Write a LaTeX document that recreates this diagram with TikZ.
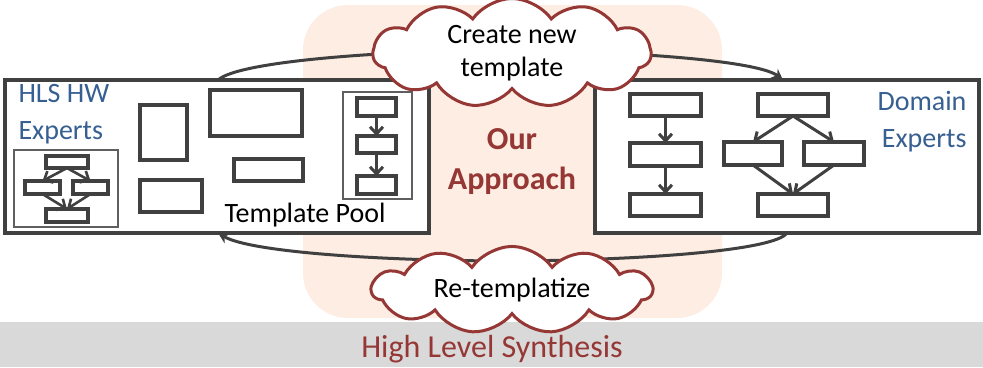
\documentclass[tikz,border=0pt]{standalone}
\usepackage{fontspec}
\setmainfont{Carlito}
\usetikzlibrary{shapes.symbols,arrows.meta}
\definecolor{ink}{HTML}{404040}
\definecolor{frame}{HTML}{5F5F5F}
\definecolor{brick}{HTML}{953735}
\definecolor{steel}{HTML}{376092}
\definecolor{peach}{HTML}{FDEDE2}
\definecolor{band}{HTML}{D9D9D9}
\tikzset{
  blk/.style={draw=ink,line width=3.2pt,fill=white,inner sep=0pt,outer sep=0pt,anchor=north west},
  frm/.style={draw=frame,line width=2pt,inner sep=0pt,outer sep=0pt,anchor=north west},
  flow/.style={draw=ink,line width=3pt,-{Straight Barb[length=7pt,width=13pt]}},
  cyc/.style={draw=ink,line width=3pt,-{Stealth[length=11pt,width=11pt]}},
  cloudy/.style={cloud,draw=brick,fill=white,line width=3pt,cloud puffs=11,cloud puff arc=110,aspect=2.9,inner sep=0pt,align=center,font=\fontsize{28}{33}\selectfont}
}
\newcommand{\blk}[5]{\node[blk,minimum width=#4pt,minimum height=#5pt] (#1) at (#2,#3) {};}
\newcommand{\frm}[5]{\node[frm,minimum width=#4pt,minimum height=#5pt] (#1) at (#2,#3) {};}

\begin{document}
\begin{tikzpicture}[x=1pt,y=-1pt]
\useasboundingbox (0,0) rectangle (983,367);
\fill[peach,rounded corners=45pt] (303,5) rectangle (722,318);
\fill[band] (0,322) rectangle (983,367);
\node[text=brick,font=\fontsize{32}{38}\selectfont,anchor=base] (hls) at (492,357) {High Level Synthesis};
\node[text=brick,font=\bfseries\fontsize{32}{40}\selectfont,align=center] (ours) at (512,162) {Our\\Approach};
\coordinate (ptl) at (218,80);
\coordinate (ptr) at (783,80);
\coordinate (pbr) at (787,233);
\coordinate (pbl) at (218,233);
\draw[cyc] (ptl) .. controls (240,60) and (400,50) .. (512,50) .. controls (650,52) and (760,62) .. (ptr);
\draw[cyc] (pbr) .. controls (775,250) and (650,260) .. (512,261) .. controls (380,261) and (250,252) .. (pbl);
\blk{hwbox}{5}{80}{424}{153}
\blk{dombox}{595}{80}{384}{153}
\node[text=steel,font=\fontsize{28}{37}\selectfont,align=left,anchor=north west] (hwx) at (15,81) {HLS HW\\Experts};
\node[text=steel,font=\fontsize{28}{37}\selectfont,align=right,anchor=north east] (domx) at (970,88) {Domain\\Experts};
\frm{hwsub}{14}{150}{104}{77}
\blk{s1}{46}{156}{42}{12}
\blk{s2}{25}{181}{35}{13}
\blk{s3}{73}{181}{35}{13}
\blk{s4}{46}{209}{42}{13}
\draw[flow,line width=2.6pt] (s1.south) -- (s2.north);
\draw[flow,line width=2.6pt] (s1.south) -- (s3.north);
\draw[flow,line width=2.6pt] (s2.south) -- (s4.north);
\draw[flow,line width=2.6pt] (s3.south) -- (s4.north);
\blk{r1}{140}{105}{47}{55}
\blk{r2}{210}{90}{92}{46}
\blk{r3}{234}{159}{69}{22}
\blk{r4}{140}{180}{62}{32}
\frm{chain}{343}{92}{69}{107}
\blk{c1}{357}{98}{39}{18}
\blk{c2}{357}{136}{39}{17}
\blk{c3}{357}{176}{39}{18}
\draw[flow] (c1.south) -- (c2.north);
\draw[flow] (c2.south) -- (c3.north);
\node[font=\fontsize{28}{33}\selectfont,anchor=base] (pool) at (305,222) {Template Pool};
\blk{d1}{630}{94}{71}{22}
\blk{d2}{630}{143}{71}{23}
\blk{d3}{630}{194}{71}{22}
\draw[flow] (d1.south) -- (d2.north);
\draw[flow] (d2.south) -- (d3.north);
\blk{e1}{758}{94}{70}{22}
\blk{e2}{724}{142}{58}{23}
\blk{e3}{804}{142}{60}{23}
\blk{e4}{758}{194}{70}{22}
\draw[flow] (e1.south) -- (e2.north);
\draw[flow] (e1.south) -- (e3.north);
\draw[flow] (e2.south) -- (e4.north);
\draw[flow] (e3.south) -- (e4.north);
\node[cloudy,minimum width=278pt,minimum height=96pt] (mk) at (512,53) {Create new\\template};
\node[cloudy,aspect=3.9,minimum width=280pt,minimum height=72pt] (re) at (512,290) {Re-templatize};
\end{tikzpicture}
\end{document}
